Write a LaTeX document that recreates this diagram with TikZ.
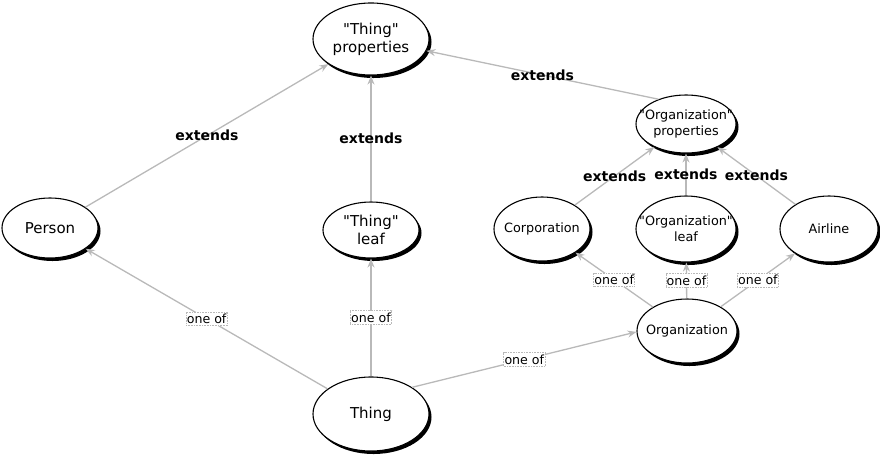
\documentclass[tikz,border=0pt]{standalone}
\usepackage{fontspec}
\newfontfamily\dejavu{DejaVu Sans}
\usetikzlibrary{shapes.geometric,shadows,arrows.meta}
\definecolor{edgegray}{RGB}{185,185,185}
\newcommand{\zw}[1]{\makebox[0pt]{#1}}
\begin{document}
\begin{tikzpicture}[x=1pt,y=-1pt,
  concept/.style={ellipse,draw=black,line width=1.1pt,fill=white,inner sep=0pt,align=center,
    drop shadow={shadow xshift=2.5pt,shadow yshift=-3pt,fill=black,opacity=1}},
  big/.style={concept,font=\dejavu\fontsize{15}{18}\selectfont},
  small/.style={concept,font=\dejavu\fontsize{12.8}{16}\selectfont},
  rel/.style={draw=edgegray,line width=1.3pt,-{Stealth[length=9pt,width=7pt]}},
  ext/.style={font=\dejavu\bfseries\fontsize{14}{16}\selectfont,inner sep=1pt},
  oneof/.style={font=\dejavu\fontsize{12.6}{15}\selectfont,fill=white,draw=edgegray,densely dotted,line width=0.6pt,inner xsep=0.8pt,inner ysep=2pt}
]
\useasboundingbox (0,0) rectangle (880,459);
\node[big,minimum width=116pt,minimum height=72pt] (tprops) at (371,39) {\zw{"Thing"}\\\zw{properties}};
\node[big,minimum width=96pt,minimum height=60pt] (person) at (50,228) {\zw{Person}};
\node[big,minimum width=96pt,minimum height=56pt] (tleaf) at (371,230) {\zw{"Thing"}\\\zw{leaf}};
\node[big,minimum width=116pt,minimum height=74pt] (thing) at (371,414) {\zw{Thing}};
\node[small,minimum width=100pt,minimum height=58pt] (oprops) at (686,124) {\zw{"Organization"}\\\zw{properties}};
\node[small,minimum width=96pt,minimum height=64pt] (corp) at (542,229) {\zw{Corporation}};
\node[small,minimum width=100pt,minimum height=66pt] (oleaf) at (686,229) {\zw{"Organization"}\\\zw{leaf}};
\node[small,minimum width=98pt,minimum height=66pt] (airline) at (829,229) {\zw{Airline}};
\node[small,minimum width=100pt,minimum height=64pt] (org) at (687,331) {\zw{Organization}};

\draw[rel] (person) -- node[ext] (l1) {extends} (tprops);
\draw[rel] (tleaf) -- node[ext] (l2) {extends} (tprops);
\draw[rel] (oprops.138) -- node[ext] (l3) {extends} (tprops.-12);
\draw[rel] (corp) -- node[ext] (l4) {extends} (oprops);
\draw[rel] (oleaf) -- node[ext] (l5) {extends} (oprops);
\draw[rel] (airline) -- node[ext] (l6) {extends} (oprops);
\draw[rel] (thing) -- node[oneof] (m1) {one of} (person);
\draw[rel] (thing) -- node[oneof] (m2) {one of} (tleaf);
\draw[rel] (thing.33) -- node[oneof] (m3) {one of} (org.181);
\draw[rel] (org) -- node[oneof] (m4) {one of} (corp);
\draw[rel] (org) -- node[oneof] (m5) {one of} (oleaf);
\draw[rel] (org) -- node[oneof] (m6) {one of} (airline);
\end{tikzpicture}
\end{document}
